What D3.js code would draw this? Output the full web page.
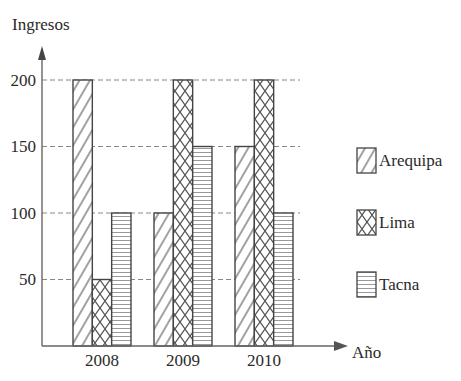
<!DOCTYPE html>
<html>
<head>
<meta charset="utf-8">
<script src="https://cdn.jsdelivr.net/npm/d3@7"></script>
<style>
  body { margin: 0; background: #fff; }
</style>
</head>
<body>
<svg id="fig" width="461" height="381"></svg>
<script>
// datos
const years = ["2008", "2009", "2010"];
const series = ["Arequipa", "Lima", "Tacna"];
const arequipa = [200, 100, 150];
const lima = [50, 200, 200];
const tacna = [100, 150, 100];
const yTicks = [50, 100, 150, 200];

const values = { Arequipa: arequipa, Lima: lima, Tacna: tacna };
const rows = years.flatMap((yr, i) => series.map(s => ({ year: yr, serie: s, value: values[s][i] })));

const svg = d3.select("#fig");
const axisX = 42, baseY = 346;

function serif(sel) {
  sel.attr("font-family", "Liberation Serif").attr("font-size", 17).attr("fill", "#2a2a2a")
    .style("font-family", "'Liberation Serif', serif", "important")
    .style("font-size", "17px", "important");
}

// patrones
const defs = svg.append("defs");
const diag = defs.append("pattern").attr("id", "p-Arequipa")
  .attr("patternUnits", "userSpaceOnUse").attr("width", 9).attr("height", 9)
  .attr("patternTransform", "rotate(30)");
diag.append("rect").attr("width", 9).attr("height", 9).attr("fill", "#fff");
diag.append("line").attr("x1", 1).attr("y1", 0).attr("x2", 1).attr("y2", 9)
  .attr("stroke", "#555").attr("stroke-width", 1.1);

const cross = defs.append("pattern").attr("id", "p-Lima")
  .attr("patternUnits", "userSpaceOnUse").attr("width", 10).attr("height", 14);
cross.append("rect").attr("width", 10).attr("height", 14).attr("fill", "#fff");
cross.append("path").attr("d", "M0,0L10,14M10,0L0,14")
  .attr("stroke", "#555").attr("stroke-width", 1.3);

const horiz = defs.append("pattern").attr("id", "p-Tacna")
  .attr("patternUnits", "userSpaceOnUse").attr("width", 6).attr("height", 4);
horiz.append("rect").attr("width", 6).attr("height", 4).attr("fill", "#fff");
horiz.append("line").attr("x1", 0).attr("y1", 0.5).attr("x2", 6).attr("y2", 0.5)
  .attr("stroke", "#999").attr("stroke-width", 1);

// escalas
const x = d3.scaleBand().domain(years).range([73, 293]).paddingInner(0.284);
const xs = d3.scaleBand().domain(series).range([0, x.bandwidth()]);
const y = d3.scaleLinear().domain([0, 200]).range([baseY, 80]);

// lineas de guia
svg.append("g").selectAll("line").data(yTicks).join("line")
  .attr("x1", axisX).attr("x2", 300)
  .attr("y1", d => y(d)).attr("y2", d => y(d))
  .attr("stroke", "#888").attr("stroke-width", 1)
  .attr("stroke-dasharray", "5,3");

// barras
svg.append("g").selectAll("rect").data(rows).join("rect")
  .attr("x", d => x(d.year) + xs(d.serie))
  .attr("y", d => y(d.value))
  .attr("width", xs.bandwidth())
  .attr("height", d => baseY - y(d.value))
  .attr("fill", d => `url(#p-${d.serie})`)
  .attr("stroke", "#444").attr("stroke-width", 1.4);

// eje Y
svg.append("g").attr("transform", `translate(${axisX - 6},0)`)
  .call(d3.axisLeft(y).tickValues(yTicks).tickSize(0).tickPadding(0))
  .call(g => g.select(".domain").remove())
  .call(g => g.attr("font-family", "Liberation Serif"))
  .selectAll("text").call(serif);

svg.append("line").attr("x1", axisX).attr("x2", axisX).attr("y1", baseY).attr("y2", 58)
  .attr("stroke", "#666").attr("stroke-width", 1.4);
svg.append("path").attr("d", `M${axisX},46L${axisX - 4},60L${axisX + 4},60Z`).attr("fill", "#444");
svg.append("text").attr("x", 12).attr("y", 30).text("Ingresos").call(serif);

// eje X
svg.append("line").attr("x1", axisX).attr("x2", 336).attr("y1", baseY).attr("y2", baseY)
  .attr("stroke", "#666").attr("stroke-width", 1.4);
svg.append("path").attr("d", `M348,${baseY}L334,${baseY - 5}L334,${baseY + 5}Z`).attr("fill", "#555");
svg.append("text").attr("x", 352).attr("y", baseY + 12).text("Año").call(serif);

svg.append("g").attr("transform", `translate(0,${baseY + 8})`)
  .call(d3.axisBottom(x).tickSize(0).tickPadding(0))
  .call(g => g.select(".domain").remove())
  .call(g => g.attr("font-family", "Liberation Serif"))
  .selectAll("text").call(serif);

// leyenda
const legY = d3.scalePoint().domain(series).range([160, 284]);
const leg = svg.append("g").selectAll("g").data(series).join("g")
  .attr("transform", d => `translate(357,${legY(d)})`);
leg.append("rect").attr("x", 0).attr("y", -12).attr("width", 19).attr("height", 25)
  .attr("fill", d => `url(#p-${d})`).attr("stroke", "#444").attr("stroke-width", 1.3);
leg.append("text").attr("x", 22).attr("y", 6).text(d => d).call(serif);
</script>
</body>
</html>
